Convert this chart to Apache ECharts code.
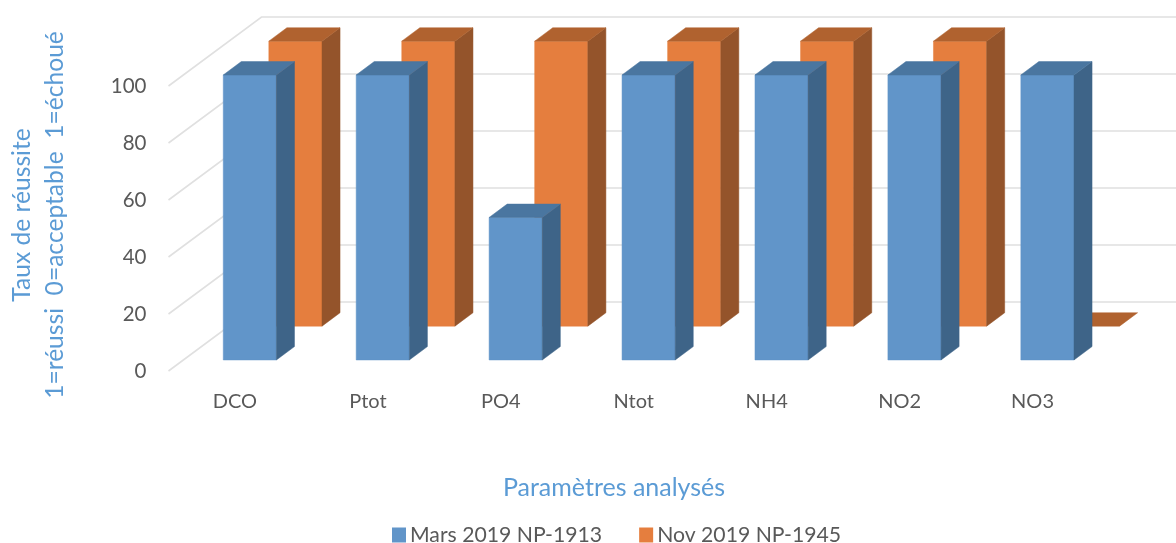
<!DOCTYPE html>
<html><head><meta charset="utf-8">
<style>html,body{margin:0;padding:0;background:#fff}#c{width:1176px;height:543px}</style>
<script src="https://cdn.jsdelivr.net/npm/echarts@6/dist/echarts.min.js"></script>
</head><body><div id="c"></div>
<script>
const categories = ['DCO','Ptot','PO4','Ntot','NH4','NO2','NO3'];
const mars = [100,100,50,100,100,100,100];
const nov = [100,100,100,100,100,100,0];
const yTicks = [0,20,40,60,80,100];
const FONT = 'Lato';
const DX = 93, DY = 69;      // oblique depth vector of the 3D floor
const HALF = 0.2;            // half bar width, fraction of the band

function barRenderer(near, far, cFront, cTop, cSide) {
  return function (params, api) {
    const cat = api.value(0), v = api.value(1);
    const band = api.size([1, 0])[0];
    const P = (side, val, d) => {
      const c = api.coord([cat, val]);
      return [c[0] + side * HALF * band + d * DX, c[1] - d * DY];
    };
    const poly = (pts, fill) => ({type:'polygon', shape:{points:pts},
      style:{fill, stroke:fill, lineWidth:0.5}});
    const kids = [];
    if (v > 0) {
      kids.push(poly([P(-1,0,near),P(1,0,near),P(1,v,near),P(-1,v,near)], cFront));
      kids.push(poly([P(1,0,near),P(1,0,far),P(1,v,far),P(1,v,near)], cSide));
    }
    kids.push(poly([P(-1,v,near),P(1,v,near),P(1,v,far),P(-1,v,far)], cTop));
    return {type:'group', children:kids};
  };
}

function gridRenderer(params, api) {
  const v = api.value(0);
  const r = params.coordSys;
  const y = api.coord([0, v])[1];
  return {type:'polyline', shape:{points:[[r.x,y],[r.x+DX,y-DY],[r.x+r.width+DX,y-DY]]},
    style:{fill:null, stroke:'#e0e0e0', lineWidth:1.6}};
}

const chart = echarts.init(document.getElementById('c'), null, {renderer:'canvas'});
chart.setOption({
  animation:false,
  backgroundColor:'#ffffff',
  textStyle:{fontFamily:FONT},
  grid:{left:168.5,right:77,top:86,bottom:172,containLabel:false},
  xAxis:{type:'category',data:categories,axisLine:{show:false},axisTick:{show:false},splitLine:{show:false},
    axisLabel:{color:'#595959',fontSize:20,fontFamily:FONT,margin:21}},
  yAxis:{type:'value',min:0,max:100,interval:20,axisLine:{show:false},axisTick:{show:false},splitLine:{show:false},
    axisLabel:{color:'#595959',fontSize:20.5,fontFamily:FONT,margin:22,padding:[3,0,0,0]}},
  legend:{left:392,top:524.5,itemWidth:14,itemHeight:15,itemGap:37,icon:'rect',padding:0,
    data:['Mars 2019 NP-1913','Nov 2019 NP-1945'],
    textStyle:{color:'#595959',fontSize:21.2,fontFamily:FONT,padding:[0,0,0,-1]}},
  graphic:[
    {type:'text',x:38.5,y:215,rotation:Math.PI/2,silent:true,
     style:{text:'Taux de réussite\n1=réussi  0=acceptable  1=échoué',fill:'#5b9bd5',
       font:'24.6px '+FONT,align:'center',verticalAlign:'middle',lineHeight:33}},
    {type:'text',x:614,y:488,silent:true,
     style:{text:'Paramètres analysés',fill:'#5b9bd5',font:'25px '+FONT,align:'center',verticalAlign:'middle'}}
  ],
  series:[
    {name:'grid',type:'custom',z:1,silent:true,renderItem:gridRenderer,encode:{y:0},
     data:yTicks.map(v=>[v])},
    {name:'Nov 2019 NP-1945',type:'custom',z:2,itemStyle:{color:'#e57e3e'},encode:{x:0,y:1},
     renderItem:barRenderer(0.65,0.844,'#e57e3e','#b0622f','#94542b'),
     data:nov.map((v,i)=>[i,v])},
    {name:'Mars 2019 NP-1913',type:'custom',z:3,itemStyle:{color:'#6195c9'},encode:{x:0,y:1},
     renderItem:barRenderer(0.16,0.354,'#6195c9','#4a76a0','#3e6488'),
     data:mars.map((v,i)=>[i,v])}
  ]
});
</script></body></html>
